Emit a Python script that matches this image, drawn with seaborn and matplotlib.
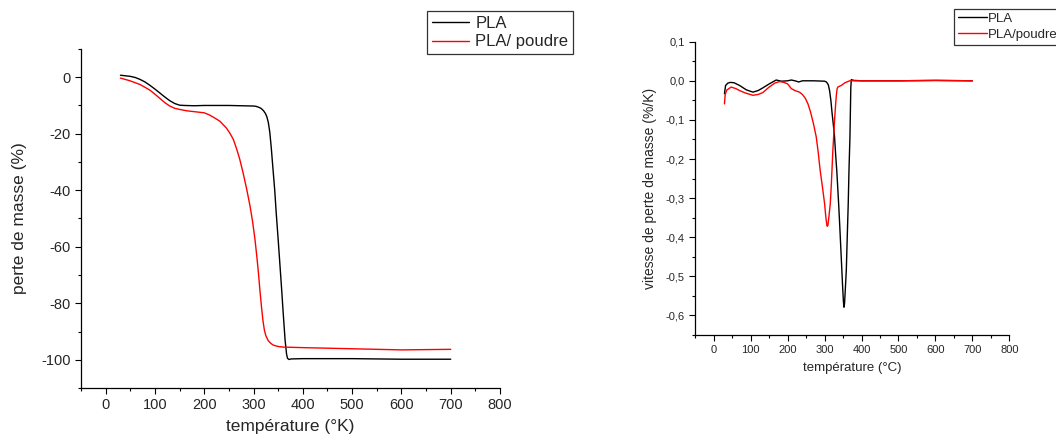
import matplotlib
matplotlib.use("Agg")
import matplotlib.pyplot as plt
import seaborn as sns
import pandas as pd
from matplotlib.ticker import MultipleLocator, FuncFormatter
from matplotlib.lines import Line2D

# ---- TGA data (left) ----
tga_temp_pla = [30, 40, 50, 60, 70, 80, 90, 100, 110, 120, 130, 140, 150, 160, 180, 200, 250,
                300, 305, 310, 315, 320, 324, 327, 330, 333, 336, 339, 343, 346, 350, 353, 357,
                360, 364, 367, 369, 372, 376, 400, 500, 600, 700]
tga_mass_pla = [0.7, 0.5, 0.3, -0.1, -0.8, -1.7, -2.9, -4.2, -5.6, -7.0, -8.3, -9.3, -9.9, -10.0,
                -10.1, -10.0, -10.0, -10.2, -10.3, -10.6, -11.0, -11.8, -12.8, -14.0, -16.0, -19.5,
                -25, -31.5, -40, -48, -57.5, -65, -75, -83, -93, -98, -99.5, -99.9, -99.7, -99.6,
                -99.6, -99.8, -99.8]
tga_temp_poudre = [30, 50, 70, 90, 100, 110, 120, 130, 140, 150, 165, 180, 200, 210, 220, 232, 245,
                   252, 259, 265, 272, 279, 286, 293, 298, 303, 307, 310, 313, 316, 319, 322, 325,
                   330, 335, 340, 350, 360, 400, 500, 600, 700]
tga_mass_poudre = [-0.3, -1.3, -2.6, -4.6, -6.0, -7.5, -9.0, -10.2, -11.0, -11.4, -11.9, -12.2,
                   -12.6, -13.3, -14.3, -15.6, -18.0, -19.8, -22, -25, -29, -34, -39.5, -45.7, -51,
                   -57.5, -64, -69.4, -75.5, -81, -86, -89.5, -91.5, -93.3, -94.2, -94.8, -95.3,
                   -95.5, -95.7, -96.1, -96.5, -96.3]

# ---- DTG data (right) ----
dtg_temp_pla = [29, 32, 38, 45, 55, 70, 88, 106, 120, 133, 150, 169, 183, 200, 210, 220, 230, 240,
                270, 300, 305, 310, 313.5, 317, 320, 324, 327, 330, 333, 336, 338, 341, 343, 345,
                347, 349, 351, 352.4, 354, 356, 358.8, 361, 364, 366, 368.6, 370, 371, 372.3, 375,
                380, 400, 500, 600, 700]
dtg_rate_pla = [-0.033, -0.012, -0.006, -0.004, -0.005, -0.012, -0.023, -0.029, -0.025, -0.018,
                -0.008, 0.002, -0.001, 0.000, 0.002, 0.000, -0.003, 0.0, 0.0, -0.001, -0.003,
                -0.01, -0.025, -0.05, -0.08, -0.115, -0.144, -0.19, -0.23, -0.28, -0.314, -0.37,
                -0.41, -0.45, -0.49, -0.53, -0.565, -0.579, -0.57, -0.535, -0.484, -0.41, -0.314,
                -0.23, -0.144, -0.07, -0.017, 0.003, 0.002, 0.001, 0.0, 0.0, 0.001, 0.0]
dtg_temp_poudre = [29, 31, 35, 47, 60, 70, 85, 106, 120, 133, 150, 165, 178, 190, 200, 210, 220,
                   232, 240, 248, 255, 262, 270, 277.5, 283, 288, 294, 300, 303, 305.5, 307, 309,
                   312, 315.4, 318, 320, 322, 324.4, 327, 330, 332, 334, 336, 340, 345, 355, 368,
                   400, 500, 600, 700]
dtg_rate_poudre = [-0.059, -0.035, -0.024, -0.016, -0.02, -0.025, -0.031, -0.037, -0.035, -0.03,
                   -0.016, -0.006, -0.002, -0.004, -0.008, -0.02, -0.025, -0.029, -0.035, -0.045,
                   -0.059, -0.08, -0.11, -0.144, -0.185, -0.229, -0.27, -0.314, -0.345, -0.365,
                   -0.372, -0.37, -0.345, -0.314, -0.27, -0.229, -0.185, -0.144, -0.1, -0.059,
                   -0.035, -0.02, -0.016, -0.014, -0.012, -0.005, 0.0, 0.0, 0.0, 0.001, 0.0]

sns.set_theme(style="ticks")
plt.rcParams["font.family"] = ["Liberation Sans", "DejaVu Sans"]
plt.rcParams["axes.unicode_minus"] = False

fig = plt.figure(figsize=(10.56, 4.45), dpi=100)
ax1 = fig.add_axes([0.0767, 0.128, 0.3968, 0.762])
ax2 = fig.add_axes([0.6584, 0.2472, 0.2974, 0.6591])

df1 = pd.concat([
    pd.DataFrame({"T": tga_temp_pla, "m": tga_mass_pla, "s": "PLA"}),
    pd.DataFrame({"T": tga_temp_poudre, "m": tga_mass_poudre, "s": "PLA/ poudre"}),
])
df2 = pd.concat([
    pd.DataFrame({"T": dtg_temp_pla, "r": dtg_rate_pla, "s": "PLA"}),
    pd.DataFrame({"T": dtg_temp_poudre, "r": dtg_rate_poudre, "s": "PLA/poudre"}),
])

sns.lineplot(data=df1, x="T", y="m", hue="s", palette=["black", "red"], ax=ax1,
             linewidth=1.0, sort=False, estimator=None, legend=False)
sns.lineplot(data=df2, x="T", y="r", hue="s", palette=["black", "red"], ax=ax2,
             linewidth=1.0, sort=False, estimator=None, legend=False)

for ax in (ax1, ax2):
    sns.despine(ax=ax)
    ax.set_xlim(-50, 800)
    ax.xaxis.set_major_locator(MultipleLocator(100))
    ax.xaxis.set_minor_locator(MultipleLocator(50))
    ax.tick_params(which="major", direction="out", length=4, width=0.8, color="black")
    ax.tick_params(which="minor", direction="out", length=2.5, width=0.8, color="black")
    for sp in ("left", "bottom"):
        ax.spines[sp].set_color("black")
        ax.spines[sp].set_linewidth(0.9)

ax1.set_ylim(-110, 10)
ax1.yaxis.set_major_locator(MultipleLocator(20))
ax1.yaxis.set_minor_locator(MultipleLocator(10))
ax1.tick_params(labelsize=10.5)
ax1.set_xlabel("température (°K)", fontsize=12.5, labelpad=5)
ax1.set_ylabel("perte de masse (%)", fontsize=12.5, labelpad=10)

ax2.set_ylim(-0.65, 0.1)
ax2.yaxis.set_major_locator(MultipleLocator(0.1))
ax2.yaxis.set_minor_locator(MultipleLocator(0.05))
ax2.yaxis.set_major_formatter(FuncFormatter(lambda v, p: f"{v:.1f}".replace(".", ",").replace("-0,0", "0,0")))
ax2.tick_params(labelsize=8)
ax2.set_xlabel("température (°C)", fontsize=9.5, labelpad=5)
ax2.set_ylabel("vitesse de perte de masse (%/K)", fontsize=10, labelpad=6)

h1 = [Line2D([], [], color="black", lw=1.0), Line2D([], [], color="red", lw=1.0)]
leg1 = fig.legend(h1, ["PLA", "PLA/ poudre"], loc="upper left", bbox_to_anchor=(0.4044, 0.975),
                  frameon=True, fancybox=False, edgecolor="black", fontsize=12,
                  handlelength=2.2, handletextpad=0.4, borderpad=0.3, labelspacing=0.2,
                  borderaxespad=0)
leg1.get_frame().set_linewidth(0.9)
leg2 = fig.legend(h1, ["PLA", "PLA/poudre"], loc="upper left", bbox_to_anchor=(0.9034, 0.98),
                  frameon=True, fancybox=False, edgecolor="black", fontsize=9.5,
                  handlelength=2.2, handletextpad=0.05, borderpad=0.3, labelspacing=0.25,
                  borderaxespad=0)
leg2.get_frame().set_linewidth(0.9)

fig.savefig("out.png", dpi=100)
